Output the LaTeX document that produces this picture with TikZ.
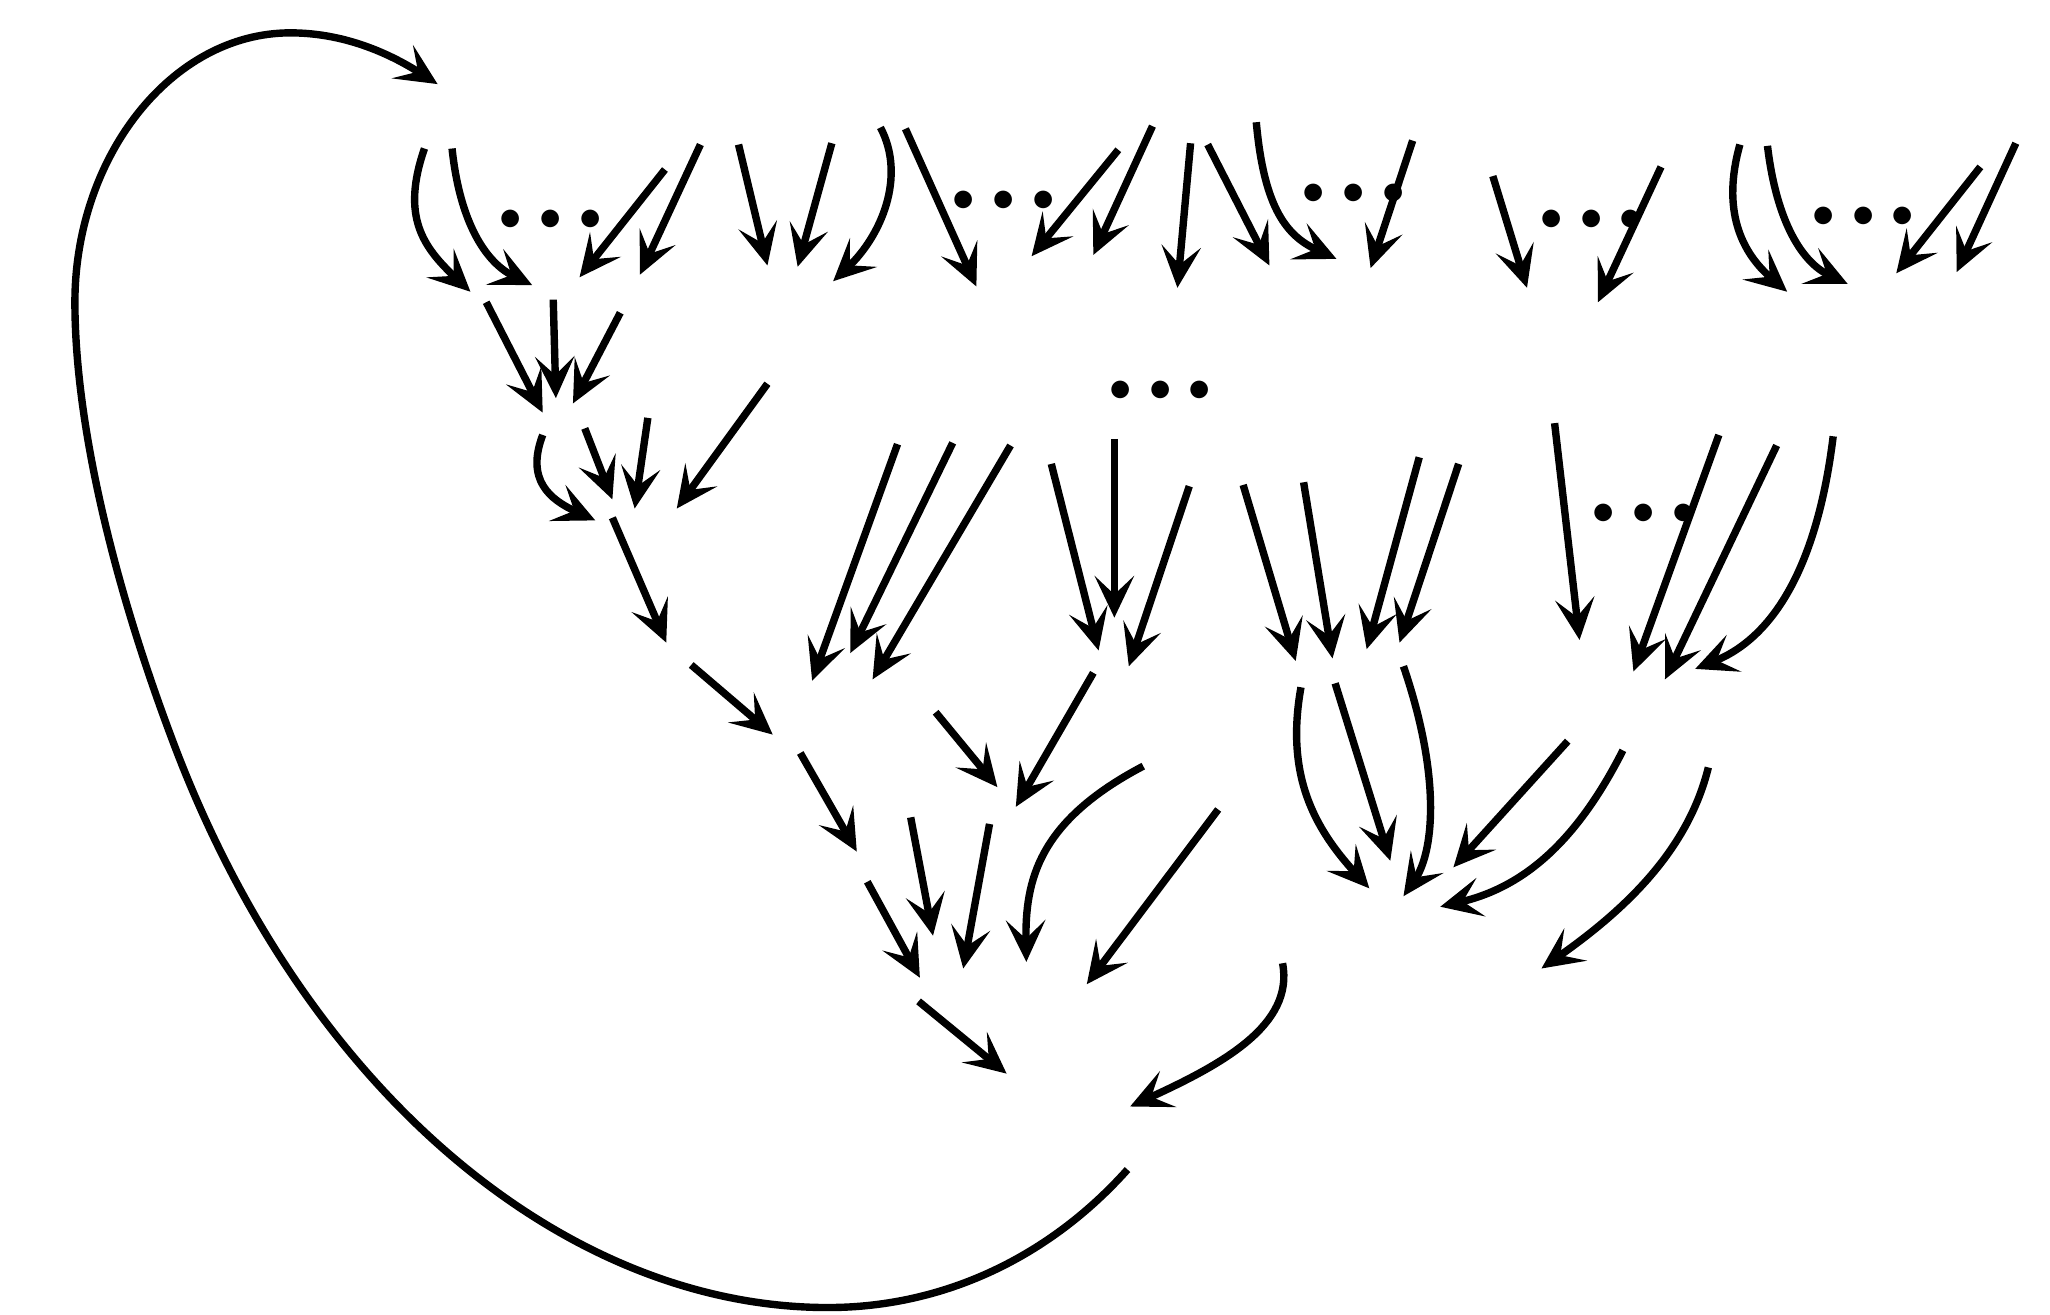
\documentclass[tikz,border=0pt]{standalone}
\usetikzlibrary{arrows.meta}

\begin{document}
\begin{tikzpicture}[x=0.01cm, y=-0.01cm]
    \tikzset{
        edge/.style={line width=1.6pt, -{Stealth[length=9pt, width=8.5pt, inset=4pt]}},
        ellip/.style={inner sep=0pt, scale=3.6}
    }
    \useasboundingbox (0,0) rectangle (1560,1000);

    % Invisible vertices
    \coordinate (top) at (335,88);
    \coordinate (r1a) at (420,222);
    \coordinate (r1b) at (605,230);
    \coordinate (r1c) at (765,215);
    \coordinate (r1d) at (970,215);
    \coordinate (r1e) at (1190,228);
    \coordinate (r1f) at (1420,222);
    \coordinate (c1) at (425,318);
    \coordinate (c2) at (470,392);
    \coordinate (c3) at (515,498);
    \coordinate (c4) at (600,566);
    \coordinate (c5) at (656,660);
    \coordinate (c6) at (730,752);
    \coordinate (bot) at (810,855);
    \coordinate (m1) at (650,515);
    \coordinate (m2) at (765,612);
    \coordinate (m3) at (845,500);
    \coordinate (s1) at (1025,510);
    \coordinate (s2) at (1245,530);
    \coordinate (s3) at (1075,690);
    \coordinate (s4) at (1165,750);

    % Dots
    \node[ellip] (dots1) at (419,170) {${\cdot}\kern-0.38pt{\cdot}\kern-0.38pt{\cdot}$};
    \node[ellip] (dots2) at (764,156) {${\cdot}\kern-0.38pt{\cdot}\kern-0.38pt{\cdot}$};
    \node[ellip] (dots3) at (1030,150) {${\cdot}\kern-0.38pt{\cdot}\kern-0.38pt{\cdot}$};
    \node[ellip] (dots4) at (1211,170) {${\cdot}\kern-0.38pt{\cdot}\kern-0.38pt{\cdot}$};
    \node[ellip] (dots5) at (1418,168) {${\cdot}\kern-0.38pt{\cdot}\kern-0.38pt{\cdot}$};
    \node[ellip] (dots6) at (883,300) {${\cdot}\kern-0.38pt{\cdot}\kern-0.38pt{\cdot}$};
    \node[ellip] (dots7) at (1251,394) {${\cdot}\kern-0.38pt{\cdot}\kern-0.38pt{\cdot}$};

    % Loop from the bottom back to the top
    \draw[edge] ([shift={(48,35)}]bot) .. controls (800,955) and (720,995) .. (630,995)
        .. controls (430,995) and (230,830) .. (130,560)
        .. controls (85,440) and (57,320) .. (57,230)
        .. controls (57,120) and (130,25) .. (221,25)
        .. controls (265,25) and (300,43) .. ([shift={(-2,-24)}]top);

    % First row
    \draw[edge] ([shift={(-12,25)}]top) .. controls +(-18,52) and +(-36,-34) .. ([shift={(-62,0)}]r1a);
    \draw[edge] ([shift={(9,25)}]top) .. controls +(6,57) and +(-35,-17) .. ([shift={(-15,-5)}]r1a);
    \draw[edge] ([shift={(86,-93)}]r1a) -- ([shift={(21,-11)}]r1a);
    \draw[edge] ([shift={(113,-112)}]r1a) -- ([shift={(67,-13)}]r1a);

    \draw[edge] ([shift={(-43,-120)}]r1b) -- ([shift={(-21,-28)}]r1b);
    \draw[edge] ([shift={(28,-121)}]r1b) -- ([shift={(2,-27)}]r1b);
    \draw[edge] ([shift={(65,-133)}]r1b) .. controls +(20,38) and +(36,-34) .. ([shift={(29,-16)}]r1b);

    \draw[edge] ([shift={(-76,-117)}]r1c) -- ([shift={(-22,3)}]r1c);
    \draw[edge] ([shift={(86,-101)}]r1c) -- ([shift={(20,-20)}]r1c);
    \draw[edge] ([shift={(112,-119)}]r1c) -- ([shift={(67,-21)}]r1c);

    \draw[edge] ([shift={(-64,-106)}]r1d) -- ([shift={(-74,4)}]r1d);
    \draw[edge] ([shift={(-51,-105)}]r1d) -- ([shift={(-4,-13)}]r1d);
    \draw[edge] ([shift={(-14,-122)}]r1d) .. controls +(6,67) and +(-37,-17) .. ([shift={(47,-18)}]r1d);
    \draw[edge] ([shift={(105,-108)}]r1d) -- ([shift={(73,-11)}]r1d);

    \draw[edge] ([shift={(-54,-94)}]r1e) -- ([shift={(-28,-9)}]r1e);
    \draw[edge] ([shift={(74,-101)}]r1e) -- ([shift={(26,2)}]r1e);

    \draw[edge] ([shift={(-96,-112)}]r1f) .. controls +(-14,50) and +(-35,-30) .. ([shift={(-60,0)}]r1f);
    \draw[edge] ([shift={(-75,-111)}]r1f) .. controls +(7,59) and +(-34,-16) .. ([shift={(-14,-6)}]r1f);
    \draw[edge] ([shift={(87,-95)}]r1f) -- ([shift={(23,-14)}]r1f);
    \draw[edge] ([shift={(114,-113)}]r1f) -- ([shift={(69,-15)}]r1f);

    % Left chain down to the bottom
    \draw[edge] ([shift={(-50,8)}]r1a) -- ([shift={(-12,-4)}]c1);
    \draw[edge] ([shift={(1,6)}]r1a) -- ([shift={(-2,-15)}]c1);
    \draw[edge] ([shift={(52,16)}]r1a) -- ([shift={(11,-11)}]c1);

    \draw[edge] ([shift={(-12,13)}]c1) .. controls +(-13,34) and +(-35,-16) .. ([shift={(-17,4)}]c2);
    \draw[edge] ([shift={(20,8)}]c1) -- ([shift={(-4,-12)}]c2);
    \draw[edge] ([shift={(68,0)}]c1) -- ([shift={(13,-5)}]c2);
    \draw[edge] ([shift={(-21,62)}]r1b) -- ([shift={(45,-5)}]c2);

    \draw[edge] ([shift={(-4,2)}]c2) -- ([shift={(-8,-9)}]c3);
    \draw[edge] ([shift={(11,8)}]c3) -- ([shift={(-12,-7)}]c4);
    \draw[edge] ([shift={(9,7)}]c4) -- ([shift={(-4,-12)}]c5);
    \draw[edge] ([shift={(4,11)}]c5) -- ([shift={(-30,-8)}]c6);

    % Middle
    \draw[edge] ([shift={(33,-177)}]m1) -- ([shift={(-32,3)}]m1);
    \draw[edge] ([shift={(75,-178)}]m1) -- ([shift={(-3,-18)}]m1);
    \draw[edge] ([shift={(119,-176)}]m1) -- ([shift={(14,2)}]m1);
    \draw[edge] ([shift={(62,27)}]m1) -- ([shift={(-6,-13)}]m2);

    \draw[edge] ([shift={(-45,-147)}]m3) -- ([shift={(-9,-5)}]m3);
    \draw[edge] ([shift={(3,-166)}]m3) -- ([shift={(3,-30)}]m3);
    \draw[edge] ([shift={(60,-130)}]m3) -- ([shift={(14,7)}]m3);
    \draw[edge] ([shift={(-13,12)}]m3) -- ([shift={(8,2)}]m2);

    \draw[edge] ([shift={(-72,10)}]m2) -- ([shift={(-20,-40)}]c6);
    \draw[edge] ([shift={(-12,15)}]m2) -- ([shift={(3,-15)}]c6);
    \draw[edge] ([shift={(140,-169)}]c6) .. controls +(-80,42) and +(-1,-62) .. ([shift={(51,-20)}]c6);
    \draw[edge] ([shift={(197,-136)}]c6) -- ([shift={(97,-3)}]c6);
    \draw[edge] ([shift={(-31,10)}]c6) -- ([shift={(-44,-38)}]bot);

    % Right part
    \draw[edge] ([shift={(-79,-141)}]s1) -- ([shift={(-39,-7)}]s1);
    \draw[edge] ([shift={(-33,-143)}]s1) -- ([shift={(-11,-9)}]s1);
    \draw[edge] ([shift={(55,-162)}]s1) -- ([shift={(15,-16)}]s1);
    \draw[edge] ([shift={(85,-157)}]s1) -- ([shift={(40,-21)}]s1);

    \draw[edge] ([shift={(-35,13)}]s1) .. controls +(-12,67) and +(-42,-46) .. ([shift={(-33,-14)}]s3);
    \draw[edge] ([shift={(-9,10)}]s1) -- ([shift={(-17,-35)}]s3);
    \draw[edge] ([shift={(43,-3)}]s1) .. controls +(30,88) and +(22,-32) .. ([shift={(-7,-8)}]s3);

    \draw[edge] ([shift={(-62,-208)}]s2) -- ([shift={(-43,-43)}]s2);
    \draw[edge] ([shift={(63,-199)}]s2) -- ([shift={(-2,-19)}]s2);
    \draw[edge] ([shift={(107,-191)}]s2) -- ([shift={(22,-13)}]s2);
    \draw[edge] ([shift={(150,-198)}]s2) .. controls +(-12,98) and +(60,-24) .. ([shift={(45,-21)}]s2);

    \draw[edge] ([shift={(-52,34)}]s2) -- ([shift={(31,-30)}]s3);
    \draw[edge] ([shift={(-10,41)}]s2) .. controls +(-35,69) and +(64,-15) .. ([shift={(21,0)}]s3);
    \draw[edge] ([shift={(55,54)}]s2) .. controls +(-15,61) and +(67,-47) .. ([shift={(8,-13)}]s4);

    \draw[edge] ([shift={(-99,43)}]s3) .. controls +(9,47) and +(70,-32) .. ([shift={(50,-13)}]bot);
\end{tikzpicture}
\end{document}
